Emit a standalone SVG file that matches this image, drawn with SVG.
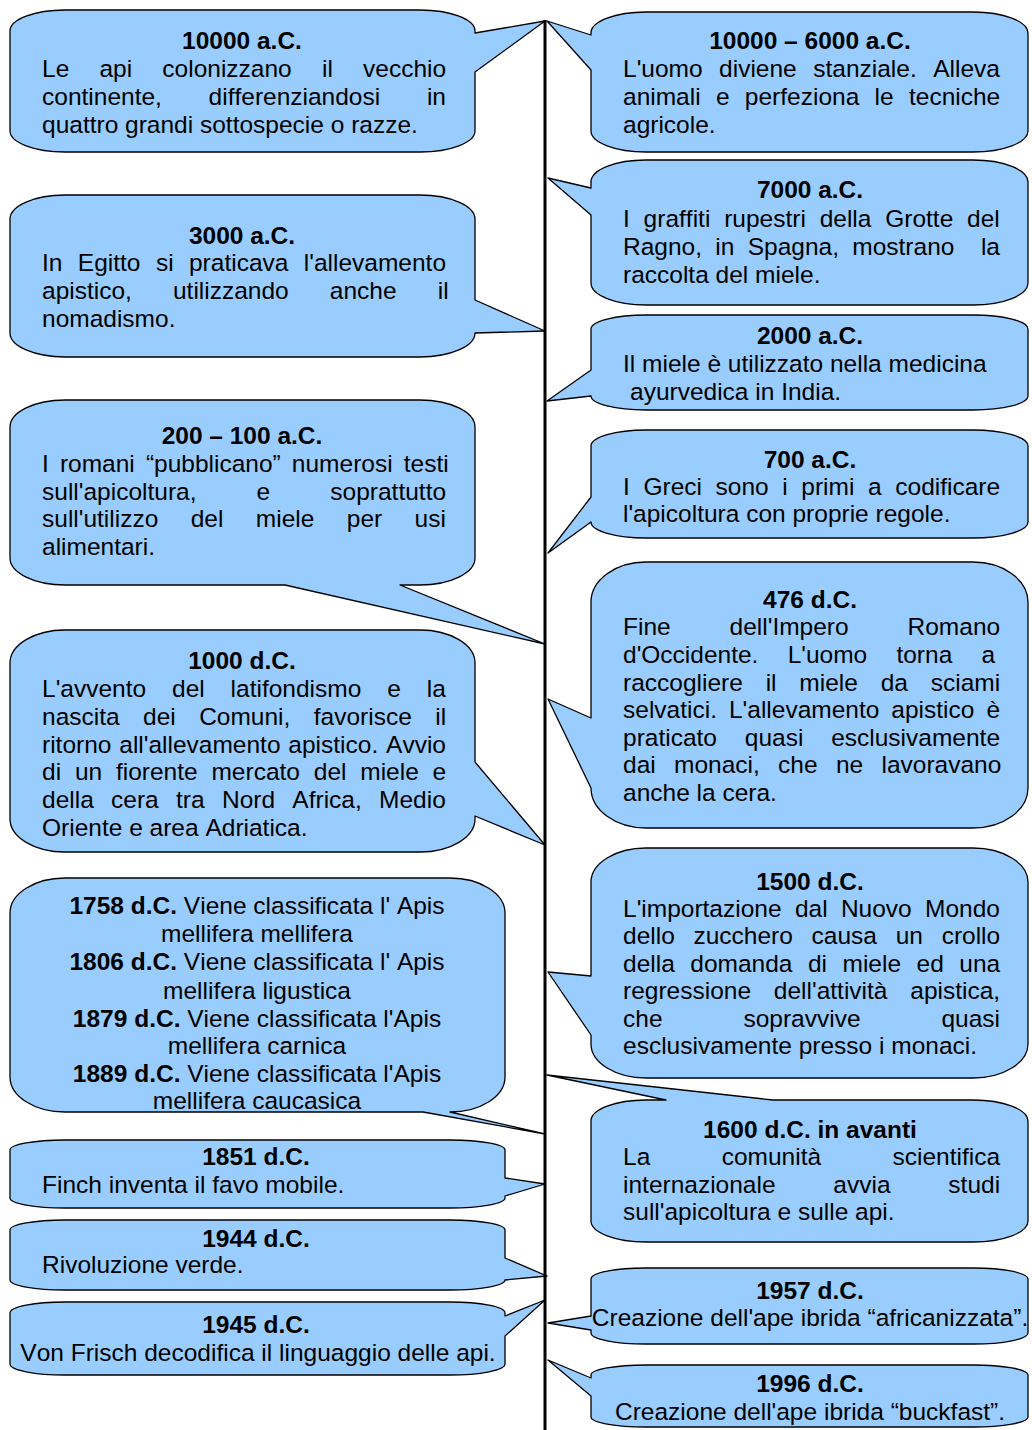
<svg xmlns="http://www.w3.org/2000/svg" width="1032" height="1430" viewBox="0 0 1032 1430">
<style>
.c{fill:#99ccff;stroke:#000;stroke-width:1.3;stroke-linejoin:round}
text{font-family:"Liberation Sans",Arial,sans-serif;font-size:24.5px;fill:#000;font-kerning:none}
.b{font-weight:bold}
.m{text-anchor:middle}
.e{text-anchor:end}
</style>
<rect width="1032" height="1430" fill="#fff"/>

<g id="n-10000ac">
<path class="c" d="M10,31 A55,21 0 0 1 65,10 H420 A55,21 0 0 1 475,31 L475,33 L545,21 L475,72 V131 A55,21 0 0 1 420,152 H65 A55,21 0 0 1 10,131 Z"/>
<text class="b m" x="242" y="49">10000 a.C.</text>
<text x="42" y="77" word-spacing="23.4">Le api colonizzano il vecchio</text>
<text x="42" y="105" word-spacing="39.9">continente, differenziandosi in</text>
<text x="42" y="133">quattro grandi sottospecie o razze.</text>
</g>

<g id="n-10000-6000ac">
<path class="c" d="M591,33 A55,21 0 0 1 646,12 H973 A55,21 0 0 1 1028,33 V131 A55,21 0 0 1 973,152 H646 A55,21 0 0 1 591,131 L591,70 L547,21 L591,35 Z"/>
<text class="b m" x="810" y="49">10000 – 6000 a.C.</text>
<text x="623" y="77" word-spacing="9.7">L'uomo diviene stanziale. Alleva</text>
<text x="623" y="105" word-spacing="8.5">animali e perfeziona le tecniche</text>
<text x="623" y="133">agricole.</text>
</g>

<g id="n-7000ac">
<path class="c" d="M591,182 A55,22 0 0 1 646,160 H973 A55,22 0 0 1 1028,182 V283 A55,22 0 0 1 973,305 H646 A55,22 0 0 1 591,283 L591,215 L548,178 L591,188 Z"/>
<text class="b m" x="810" y="198">7000 a.C.</text>
<text x="623" y="227" word-spacing="7.0">I graffiti rupestri della Grotte del</text>
<text x="623" y="255" word-spacing="6.5">Ragno, in Spagna, mostrano</text>
<text class="e" x="1000" y="255">la</text>
<text x="623" y="283">raccolta del miele.</text>
</g>

<g id="n-3000ac">
<path class="c" d="M10,219 A55,24 0 0 1 65,195 H420 A55,24 0 0 1 475,219 L475,300 L545,331 L475,333 A55,24 0 0 1 420,357 H65 A55,24 0 0 1 10,333 Z"/>
<text class="b m" x="242" y="244">3000 a.C.</text>
<text x="42" y="271" word-spacing="8.6">In Egitto si praticava l'allevamento</text>
<text x="42" y="299" word-spacing="34.3">apistico, utilizzando anche il</text>
<text x="42" y="327">nomadismo.</text>
</g>

<g id="n-2000ac">
<path class="c" d="M591,329 A55,14 0 0 1 646,315 H973 A55,14 0 0 1 1028,329 V396 A55,14 0 0 1 973,410 H646 A55,14 0 0 1 591,396 L547,401 L591,370 Z"/>
<text class="b m" x="810" y="344">2000 a.C.</text>
<text x="623" y="372">Il miele è utilizzato nella medicina</text>
<text x="630" y="400">ayurvedica in India.</text>
</g>

<g id="n-200-100ac">
<path class="c" d="M10,427 A55,27 0 0 1 65,400 H420 A55,27 0 0 1 475,427 V558 A55,27 0 0 1 420,585 L400,585 L545,644 L285,585 H65 A55,27 0 0 1 10,558 Z"/>
<text class="b m" x="242" y="444">200 – 100 a.C.</text>
<text x="42" y="472" word-spacing="4.3">I romani “pubblicano” numerosi testi</text>
<text x="42" y="500" word-spacing="53.3">sull'apicoltura, e soprattutto</text>
<text x="42" y="527" word-spacing="25.6">sull'utilizzo del miele per usi</text>
<text x="42" y="555">alimentari.</text>
</g>

<g id="n-700ac">
<path class="c" d="M591,446 A55,16 0 0 1 646,430 H973 A55,16 0 0 1 1028,446 V522 A55,16 0 0 1 973,538 H646 A55,16 0 0 1 591,522 L548,553 L591,497 Z"/>
<text class="b m" x="810" y="468">700 a.C.</text>
<text x="623" y="495" word-spacing="6.8">I Greci sono i primi a codificare</text>
<text x="623" y="522">l'apicoltura con proprie regole.</text>
</g>

<g id="n-476dc">
<path class="c" d="M591,602 A55,40 0 0 1 646,562 H973 A55,40 0 0 1 1028,602 V788 A55,40 0 0 1 973,828 H646 A55,40 0 0 1 591,788 L548,699 L591,718 Z"/>
<text class="b m" x="810" y="608">476 d.C.</text>
<text x="623" y="635" word-spacing="52.1">Fine dell'Impero Romano</text>
<text x="623" y="663" word-spacing="22.4">d'Occidente. L'uomo torna a</text>
<text x="623" y="691" word-spacing="16.0">raccogliere il miele da sciami</text>
<text x="623" y="718" word-spacing="5.2">selvatici. L'allevamento apistico è</text>
<text x="623" y="746" word-spacing="21.0">praticato quasi esclusivamente</text>
<text x="623" y="773" word-spacing="11.5">dai monaci, che ne lavoravano</text>
<text x="623" y="801">anche la cera.</text>
</g>

<g id="n-1000dc">
<path class="c" d="M10,663 A55,33 0 0 1 65,630 H420 A55,33 0 0 1 475,663 L475,762 L545,845 L475,816 V819 A55,33 0 0 1 420,852 H65 A55,33 0 0 1 10,819 Z"/>
<text class="b m" x="242" y="669">1000 d.C.</text>
<text x="42" y="697" word-spacing="19.1">L'avvento del latifondismo e la</text>
<text x="42" y="725" word-spacing="16.6">nascita dei Comuni, favorisce il</text>
<text x="42" y="753" word-spacing="1.0">ritorno all'allevamento apistico. Avvio</text>
<text x="42" y="780" word-spacing="7.0">di un fiorente mercato del miele e</text>
<text x="42" y="808" word-spacing="10.5">della cera tra Nord Africa, Medio</text>
<text x="42" y="836">Oriente e area Adriatica.</text>
</g>

<g id="n-1500dc">
<path class="c" d="M591,882 A55,34 0 0 1 646,848 H973 A55,34 0 0 1 1028,882 V1044 A55,34 0 0 1 973,1078 H646 A55,34 0 0 1 591,1044 L591,1035 L548,972 L591,976 Z"/>
<text class="b m" x="810" y="890">1500 d.C.</text>
<text x="623" y="917" word-spacing="6.5">L'importazione dal Nuovo Mondo</text>
<text x="623" y="944" word-spacing="11.9">dello zucchero causa un crollo</text>
<text x="623" y="972" word-spacing="8.7">della domanda di miele ed una</text>
<text x="623" y="999" word-spacing="16.0">regressione dell'attività apistica,</text>
<text x="623" y="1027" word-spacing="74.1">che sopravvive quasi</text>
<text x="623" y="1054">esclusivamente presso i monaci.</text>
</g>

<g id="n-1758-1889dc">
<path class="c" d="M10,913 A55,35 0 0 1 65,878 H450 A55,35 0 0 1 505,913 V1077 A55,35 0 0 1 450,1112 L545,1134 L423,1112 H65 A55,35 0 0 1 10,1077 Z"/>
<text class="m" x="257" y="914"><tspan class="b">1758 d.C.</tspan> Viene classificata l' Apis</text>
<text class="m" x="257" y="942">mellifera mellifera</text>
<text class="m" x="257" y="970"><tspan class="b">1806 d.C.</tspan> Viene classificata l' Apis</text>
<text class="m" x="257" y="999">mellifera ligustica</text>
<text class="m" x="257" y="1027"><tspan class="b">1879 d.C.</tspan> Viene classificata l'Apis</text>
<text class="m" x="257" y="1054">mellifera carnica</text>
<text class="m" x="257" y="1082"><tspan class="b">1889 d.C.</tspan> Viene classificata l'Apis</text>
<text class="m" x="257" y="1109">mellifera caucasica</text>
</g>

<g id="n-1600dc">
<path class="c" d="M591,1121 A55,21 0 0 1 646,1100 L666,1100 L547,1075 L773,1100 H973 A55,21 0 0 1 1028,1121 V1221 A55,21 0 0 1 973,1242 H646 A55,21 0 0 1 591,1221 Z"/>
<text class="b m" x="810" y="1138">1600 d.C. in avanti</text>
<text x="623" y="1165" word-spacing="64.6">La comunità scientifica</text>
<text x="623" y="1193" word-spacing="51.0">internazionale avvia studi</text>
<text x="623" y="1220">sull'apicoltura e sulle api.</text>
</g>

<g id="n-1851dc">
<path class="c" d="M10,1150 A55,10 0 0 1 65,1140 H450 A55,10 0 0 1 505,1150 L505,1178 L545,1184 L505,1196 V1198 A55,10 0 0 1 450,1208 H65 A55,10 0 0 1 10,1198 Z"/>
<text class="b m" x="256" y="1165">1851 d.C.</text>
<text x="42" y="1193">Finch inventa il favo mobile.</text>
</g>

<g id="n-1944dc">
<path class="c" d="M10,1230 A55,10 0 0 1 65,1220 H450 A55,10 0 0 1 505,1230 L505,1258 L547,1276 L505,1280 A55,10 0 0 1 450,1290 H65 A55,10 0 0 1 10,1280 Z"/>
<text class="b m" x="256" y="1247">1944 d.C.</text>
<text x="42" y="1273">Rivoluzione verde.</text>
</g>

<g id="n-1957dc">
<path class="c" d="M591,1279 A55,11 0 0 1 646,1268 H973 A55,11 0 0 1 1028,1279 V1333 A55,11 0 0 1 973,1344 H646 A55,11 0 0 1 591,1333 L591,1330 L548,1323 L591,1316 Z"/>
<text class="b m" x="810" y="1299">1957 d.C.</text>
<text class="m" x="810" y="1326">Creazione dell'ape ibrida “africanizzata”.</text>
</g>

<g id="n-1945dc">
<path class="c" d="M10,1313 A55,11 0 0 1 65,1302 H450 A55,11 0 0 1 505,1313 L505,1316 L545,1300 L505,1336 V1364 A55,11 0 0 1 450,1375 H65 A55,11 0 0 1 10,1364 Z"/>
<text class="b m" x="256" y="1333">1945 d.C.</text>
<text class="m" x="258" y="1361">Von Frisch decodifica il linguaggio delle api.</text>
</g>

<g id="n-1996dc">
<path class="c" d="M591,1375 A55,10 0 0 1 646,1365 H973 A55,10 0 0 1 1028,1375 V1417 A55,10 0 0 1 973,1427 H646 A55,10 0 0 1 591,1417 L591,1396 L548,1360 L591,1378 Z"/>
<text class="b m" x="810" y="1392">1996 d.C.</text>
<text class="m" x="810" y="1420">Creazione dell'ape ibrida “buckfast”.</text>
</g>

<g id="connectors">
<line x1="545" y1="20" x2="545" y2="1430" stroke="#000" stroke-width="3"/>
</g>
</svg>
